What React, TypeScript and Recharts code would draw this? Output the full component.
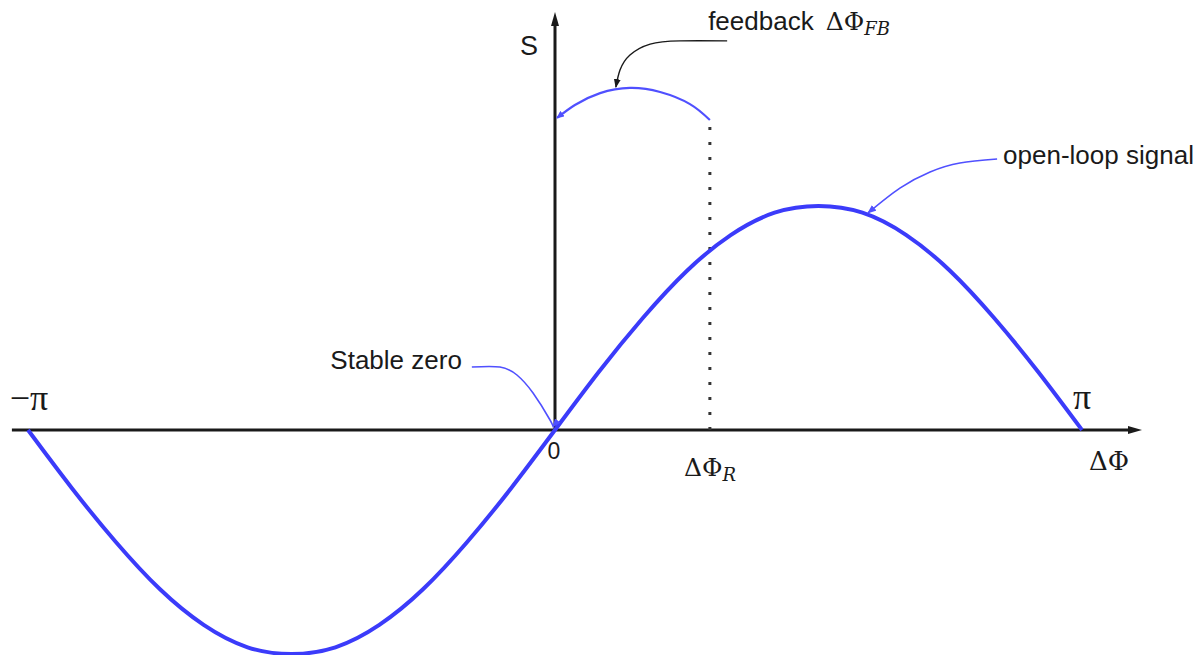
import React from "react";
import { LineChart, Line, XAxis, YAxis, ReferenceLine, ReferenceDot } from "recharts";

// Phase difference in degrees and the normalised open-loop signal S.
const phaseDeg = [
  -180, -165, -150, -135, -120, -105, -90, -75, -60, -45, -30, -15, 0,
  15, 30, 45, 60, 75, 90, 105, 120, 135, 150, 165, 180,
];
const openLoopS = [
  0, -0.26, -0.5, -0.71, -0.87, -0.97, -1, -0.97, -0.87, -0.71, -0.5, -0.26, 0,
  0.26, 0.5, 0.71, 0.87, 0.97, 1, 0.97, 0.87, 0.71, 0.5, 0.26, 0,
];

// Operating point ΔΦ_R and the feedback-shifted arc above it.
const refPhaseDeg = 52.9;
const feedbackArcX = [0.7, 6.8, 15.4, 25.6, 35.9, 46.1, 52.9];
const feedbackArcS = [1.393, 1.451, 1.504, 1.527, 1.509, 1.455, 1.384];

// Callout leader curves.
const fbLeaderX = [58.8, 42.7, 32.5, 25.6, 22.2, 20.8];
const fbLeaderS = [1.737, 1.737, 1.723, 1.674, 1.607, 1.531];
const olLeaderX = [151.0, 138.3, 128.1, 117.8, 106.9];
const olLeaderS = [1.21, 1.192, 1.152, 1.08, 0.969];
const szLeaderX = [-28.4, -18.8, -13.0, -7.5, -1.7, -0.7];
const szLeaderS = [0.281, 0.281, 0.2455, 0.165, 0.0446, 0.0134];

// Axis extents
const xAxisExtent = [-185.5, 196.4];
const yAxisTop = 1.8125;

const zip = (xs: number[], ys: number[]) => xs.map((x, i) => ({ x, s: ys[i] }));

const curveData = zip(phaseDeg, openLoopS);
const arcData = zip(feedbackArcX, feedbackArcS);
const fbLeader = zip(fbLeaderX, fbLeaderS);
const olLeader = zip(olLeaderX, olLeaderS);
const szLeader = zip(szLeaderX, szLeaderS);
const xAxisLine = [
  { x: xAxisExtent[0], s: 0 },
  { x: xAxisExtent[1], s: 0 },
];
const yAxisLine = [
  { x: 0, s: 0 },
  { x: 0, s: yAxisTop },
];

// Plot geometry: origin position, half period and amplitude in pixels.
const W = 1204;
const H = 655;
const ORIGIN_X = 555;
const ORIGIN_Y = 430;
const PX_PER_DEG = 527 / 180;
const PX_PER_S = 224;
const X_DOMAIN = [-ORIGIN_X / PX_PER_DEG, (W - ORIGIN_X) / PX_PER_DEG];
const Y_DOMAIN = [-(H - ORIGIN_Y) / PX_PER_S, ORIGIN_Y / PX_PER_S];

const CURVE_BLUE = "#3b3bfa";
const LEADER_BLUE = "#5050ff";
const INK = "#1a1a1a";
const SANS = "'Liberation Sans', Arial, sans-serif";
const SERIF = "'DejaVu Serif', 'Liberation Serif', serif";
const PI_SERIF = "'Liberation Serif', 'Times New Roman', serif";

type LabelSpec = {
  x: number;
  s: number;
  dx: number;
  dy: number;
  anchor: "start" | "middle" | "end";
  render: () => React.ReactNode;
};

const labels: LabelSpec[] = [
  {
    x: 0, s: yAxisTop, dx: -26, dy: 31, anchor: "middle",
    render: () => <tspan fontFamily={SANS} fontSize={27}>S</tspan>,
  },
  {
    x: fbLeaderX[0], s: fbLeaderS[0], dx: -19, dy: -11, anchor: "start",
    render: () => (
      <>
        <tspan fontFamily={SANS} fontSize={26}>feedback</tspan>
        <tspan fontFamily={SERIF} fontSize={25} dx={12}>ΔΦ</tspan>
        <tspan fontFamily={SERIF} fontSize={18} fontStyle="italic" dy={5}>FB</tspan>
      </>
    ),
  },
  {
    x: olLeaderX[0], s: olLeaderS[0], dx: 6, dy: 5, anchor: "start",
    render: () => <tspan fontFamily={SANS} fontSize={26}>open-loop signal</tspan>,
  },
  {
    x: szLeaderX[0], s: szLeaderS[0], dx: -10, dy: 2, anchor: "end",
    render: () => <tspan fontFamily={SANS} fontSize={26}>Stable zero</tspan>,
  },
  {
    x: -180, s: 0, dx: 1, dy: -20, anchor: "middle",
    render: () => <tspan fontFamily={PI_SERIF} fontSize={36}>−π</tspan>,
  },
  {
    x: 180, s: 0, dx: 0, dy: -21, anchor: "middle",
    render: () => <tspan fontFamily={PI_SERIF} fontSize={36}>π</tspan>,
  },
  {
    x: 0, s: 0, dx: -1, dy: 29, anchor: "middle",
    render: () => <tspan fontFamily={SANS} fontSize={23}>0</tspan>,
  },
  {
    x: refPhaseDeg, s: 0, dx: -26, dy: 46, anchor: "start",
    render: () => (
      <>
        <tspan fontFamily={SERIF} fontSize={25}>ΔΦ</tspan>
        <tspan fontFamily={SERIF} fontSize={18} fontStyle="italic" dy={5}>R</tspan>
      </>
    ),
  },
  {
    x: 180, s: 0, dx: 7, dy: 40, anchor: "start",
    render: () => <tspan fontFamily={SERIF} fontSize={26}>ΔΦ</tspan>,
  },
];

const TextShape = (spec: LabelSpec) => (props: any) => (
  <text
    x={props.cx + spec.dx}
    y={props.cy + spec.dy}
    textAnchor={spec.anchor}
    fill={INK}
  >
    {spec.render()}
  </text>
);

const Markers = () => (
  <svg width={0} height={0} style={{ position: "absolute" }}>
    <defs>
      <marker id="axisArrow" markerUnits="userSpaceOnUse" markerWidth={14} markerHeight={10}
        viewBox="0 0 14 10" refX={2} refY={5} orient="auto">
        <path d="M0,1 L14,5 L0,9 z" fill={INK} />
      </marker>
      <marker id="leaderArrowBlue" markerUnits="userSpaceOnUse" markerWidth={9} markerHeight={7}
        viewBox="0 0 9 7" refX={8} refY={3.5} orient="auto">
        <path d="M0,0 L9,3.5 L0,7 z" fill={LEADER_BLUE} />
      </marker>
      <marker id="leaderArrowBlack" markerUnits="userSpaceOnUse" markerWidth={9} markerHeight={7}
        viewBox="0 0 9 7" refX={8} refY={3.5} orient="auto">
        <path d="M0,0 L9,3.5 L0,7 z" fill={INK} />
      </marker>
      <marker id="arcArrow" markerUnits="userSpaceOnUse" markerWidth={8} markerHeight={7}
        viewBox="0 0 8 7" refX={7} refY={3.5} orient="auto-start-reverse">
        <path d="M0,0 L8,3.5 L0,7 z" fill={LEADER_BLUE} />
      </marker>
    </defs>
  </svg>
);

export default function App() {
  return (
    <div style={{ position: "absolute", left: 0, top: 0, width: W, height: H, background: "#fff" }}>
      <Markers />
      <LineChart width={W} height={H} margin={{ top: 0, right: 0, bottom: 0, left: 0 }}>
        <XAxis type="number" dataKey="x" domain={X_DOMAIN} allowDataOverflow hide />
        <YAxis type="number" dataKey="s" domain={Y_DOMAIN} allowDataOverflow hide />

        <Line data={xAxisLine} dataKey="s" type="linear" stroke={INK} strokeWidth={3}
          dot={false} activeDot={false} isAnimationActive={false} markerEnd="url(#axisArrow)" />
        <Line data={yAxisLine} dataKey="s" type="linear" stroke={INK} strokeWidth={3}
          dot={false} activeDot={false} isAnimationActive={false} markerEnd="url(#axisArrow)" />

        <ReferenceLine
          segment={[{ x: refPhaseDeg, y: 0 }, { x: refPhaseDeg, y: feedbackArcS[feedbackArcS.length - 1] }]}
          stroke="#333" strokeWidth={3} strokeDasharray="3 12" ifOverflow="visible"
        />

        <Line data={curveData} dataKey="s" type="natural" stroke={CURVE_BLUE} strokeWidth={4}
          dot={false} activeDot={false} isAnimationActive={false} />
        <Line data={arcData} dataKey="s" type="natural" stroke={LEADER_BLUE} strokeWidth={2.2}
          dot={false} activeDot={false} isAnimationActive={false} markerStart="url(#arcArrow)" />

        <Line data={fbLeader} dataKey="s" type="natural" stroke={INK} strokeWidth={1.4}
          dot={false} activeDot={false} isAnimationActive={false} markerEnd="url(#leaderArrowBlack)" />
        <Line data={olLeader} dataKey="s" type="natural" stroke={LEADER_BLUE} strokeWidth={1.6}
          dot={false} activeDot={false} isAnimationActive={false} markerEnd="url(#leaderArrowBlue)" />
        <Line data={szLeader} dataKey="s" type="natural" stroke={LEADER_BLUE} strokeWidth={1.6}
          dot={false} activeDot={false} isAnimationActive={false} markerEnd="url(#leaderArrowBlue)" />

        {labels.map((spec, i) => (
          <ReferenceDot key={i} x={spec.x} y={spec.s} r={0} ifOverflow="visible" shape={TextShape(spec)} />
        ))}
      </LineChart>
    </div>
  );
}
